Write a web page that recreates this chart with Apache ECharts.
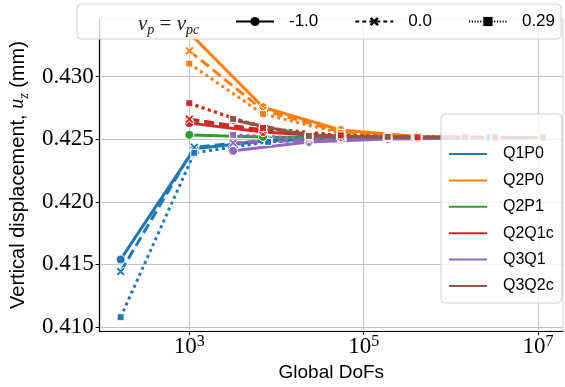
<!DOCTYPE html>
<html><head><meta charset="utf-8">
<script src="https://cdn.jsdelivr.net/npm/echarts@6/dist/echarts.min.js"></script>
<style>html,body{margin:0;padding:0;background:#fff}#c{width:565px;height:387px}</style>
</head><body><div id="c"></div>
<script>
// ---- data ----
const models = ['Q1P0', 'Q2P0', 'Q2P1', 'Q2Q1c', 'Q3Q1', 'Q3Q2c'];
const nuLabels = ['-1.0', '0.0', '0.29'];
const xTicks = [1e3, 1e5, 1e7];
const yTicks = [0.410, 0.415, 0.420, 0.425, 0.430];

const dofsQ1 = [163, 1140, 8000, 56000, 393000, 2750000];
const dofsQ2 = [1000, 7000, 54600, 414000, 3230000];
const dofsQ3 = [3180, 23500, 188000, 1466000, 11400000];

const Q1P0_m1 = [0.41540, 0.42423, 0.42490, 0.42504, 0.42510, 0.42513];
const Q1P0_0 = [0.41443, 0.42435, 0.42492, 0.42505, 0.42510, 0.42513];
const Q1P0_029 = [0.41079, 0.42391, 0.42478, 0.42501, 0.42509, 0.42513];

const Q2P0_m1 = [0.43348, 0.42755, 0.42573, 0.42522, 0.42514];
const Q2P0_0 = [0.43205, 0.42731, 0.42557, 0.42518, 0.42513];
const Q2P0_029 = [0.43103, 0.42700, 0.42549, 0.42516, 0.42513];

const Q2P1_m1 = [0.42534, 0.42518, 0.42513, 0.42513, 0.42513];
const Q2P1_0 = [0.42644, 0.42565, 0.42520, 0.42514, 0.42513];
const Q2P1_029 = [0.42785, 0.42587, 0.42528, 0.42515, 0.42513];

const Q2Q1c_m1 = [0.42628, 0.42557, 0.42518, 0.42513, 0.42513];
const Q2Q1c_0 = [0.42660, 0.42573, 0.42522, 0.42514, 0.42513];
const Q2Q1c_029 = [0.42787, 0.42589, 0.42530, 0.42515, 0.42513];

const Q3Q1_m1 = [0.42407, 0.42478, 0.42502, 0.42508, 0.42513];
const Q3Q1_0 = [0.42470, 0.42494, 0.42506, 0.42510, 0.42513];
const Q3Q1_029 = [0.42534, 0.42506, 0.42509, 0.42512, 0.42513];

const Q3Q2c_m1 = [0.42652, 0.42526, 0.42518, 0.42515, 0.42513];
const Q3Q2c_0 = [0.42656, 0.42526, 0.42518, 0.42515, 0.42513];
const Q3Q2c_029 = [0.42660, 0.42526, 0.42518, 0.42515, 0.42513];

// ---- styling ----
const colors = ['#1f77b4', '#ff7f0e', '#2ca02c', '#d62728', '#9467bd', '#8c564b'];
const xPath = 'path://M0,2L2,0L5,3L8,0L10,2L7,5L10,8L8,10L5,7L2,10L0,8L3,5Z';
const styles = [
  { dash: 'solid', symbol: 'circle', size: 9 },
  { dash: [10, 5], symbol: xPath, size: 9 },
  { dash: [3, 3.5], symbol: 'rect', size: 7 }
];
const seriesData = [
  [dofsQ1, [Q1P0_m1, Q1P0_0, Q1P0_029]],
  [dofsQ2, [Q2P0_m1, Q2P0_0, Q2P0_029]],
  [dofsQ2, [Q2P1_m1, Q2P1_0, Q2P1_029]],
  [dofsQ2, [Q2Q1c_m1, Q2Q1c_0, Q2Q1c_029]],
  [dofsQ3, [Q3Q1_m1, Q3Q1_0, Q3Q1_029]],
  [dofsQ3, [Q3Q2c_m1, Q3Q2c_0, Q3Q2c_029]]
];

const series = [];
models.forEach((m, i) => {
  const [xs, ys] = seriesData[i];
  ys.forEach((vals, j) => {
    series.push({
      type: 'line', name: m,
      data: xs.map((x, k) => [x, vals[k]]),
      symbol: styles[j].symbol, symbolSize: styles[j].size, showSymbol: true,
      color: colors[i],
      lineStyle: { width: 3, type: styles[j].dash, color: colors[i] },
      itemStyle: { color: colors[i], borderColor: '#fff', borderWidth: 1 },
      z: 2, emphasis: { disabled: true }
    });
  });
});
// legend-only series for the Poisson ratio styles
nuLabels.forEach((n, j) => {
  series.push({
    type: 'line', name: n, data: [],
    symbol: styles[j].symbol, symbolSize: 9,
    color: '#000',
    lineStyle: { width: 1.3, type: j === 0 ? 'solid' : (j === 1 ? [4, 3] : [1.2, 1.6]), color: '#000' },
    itemStyle: { color: '#000' }
  });
});

const sans = 'Liberation Sans';
const serif = 'Liberation Serif';

const chart = echarts.init(document.getElementById('c'), null, { renderer: 'canvas' });
chart.setOption({
  animation: false,
  backgroundColor: '#fff',
  title: {
    text: '{v|ν}{s|p}{e| = }{v|ν}{s|pc}',
    left: 133, top: 6, z: 10,
    textStyle: {
      fontWeight: 'normal',
      rich: {
        v: { fontFamily: serif, fontStyle: 'italic', fontWeight: 'normal', fontSize: 21, color: '#222', lineHeight: 26, verticalAlign: 'middle' },
        s: { fontFamily: serif, fontStyle: 'italic', fontWeight: 'normal', fontSize: 14, color: '#222', lineHeight: 26, verticalAlign: 'bottom' },
        e: { fontFamily: serif, fontWeight: 'normal', fontSize: 21, color: '#222', lineHeight: 26, verticalAlign: 'middle' }
      }
    }
  },
  grid: {
    left: 98, right: 2, top: 19, bottom: 53,
    show: true, borderColor: '#cfcfcf', borderWidth: 1
  },
  legend: [
    {
      data: nuLabels, orient: 'horizontal',
      left: 77, top: 4,
      padding: [9, 6, 9, 158],
      itemWidth: 38, itemHeight: 11.5, itemGap: 36,
      backgroundColor: 'rgba(255,255,255,0.8)', borderColor: '#d0d0d0', borderWidth: 1, borderRadius: 4,
      textStyle: { fontFamily: sans, fontSize: 17, color: '#000', lineHeight: 15, padding: [0, 0, 0, 10] },
      z: 5
    },
    {
      data: models.map(m => ({ name: m, icon: 'rect' })),
      orient: 'vertical',
      left: 441, top: 114,
      padding: [32, 8, 9, 6],
      itemWidth: 40, itemHeight: 4, itemGap: 10.4,
      backgroundColor: 'rgba(255,255,255,0.8)', borderColor: '#d0d0d0', borderWidth: 1, borderRadius: 4,
      textStyle: { fontFamily: sans, fontSize: 16, color: '#000', lineHeight: 16, padding: [0, 0, 0, 10] },
      z: 5
    }
  ],
  xAxis: {
    type: 'log', logBase: 10, min: 93.6, max: 1.93e7,
    name: 'Global DoFs', nameLocation: 'middle', nameGap: 29,
    nameTextStyle: { fontFamily: sans, fontSize: 19, color: '#000' },
    axisLine: { show: true, onZero: false, lineStyle: { color: '#000', width: 1.2 } },
    axisTick: { show: true, inside: false, length: 4, customValues: xTicks, lineStyle: { color: '#000' } },
    axisLabel: {
      customValues: xTicks, margin: 3,
      formatter: v => '{b|10}{s|' + Math.round(Math.log10(v)) + '}',
      rich: {
        b: { fontFamily: serif, fontSize: 23, color: '#000', lineHeight: 24, verticalAlign: 'bottom' },
        s: { fontFamily: serif, fontSize: 16, color: '#000', lineHeight: 24, verticalAlign: 'top' }
      }
    },
    splitLine: { show: true, lineStyle: { color: '#c4c4c4', width: 1 } },
    minorTick: { show: false }, minorSplitLine: { show: false }
  },
  yAxis: {
    type: 'value', min: 0.40968, max: 0.43459,
    name: '{s|Vertical displacement, }{u|u}{z|z}{s| (mm)}', nameLocation: 'middle', nameGap: 63, nameRotate: 90,
    nameTextStyle: {
      rich: {
        s: { fontFamily: sans, fontSize: 20, color: '#000' },
        u: { fontFamily: serif, fontStyle: 'italic', fontSize: 20, color: '#000' },
        z: { fontFamily: serif, fontStyle: 'italic', fontSize: 14, color: '#000', verticalAlign: 'bottom', lineHeight: 26 }
      }
    },
    axisLine: { show: true, lineStyle: { color: '#000', width: 1.2 } },
    axisTick: { show: true, inside: false, length: 4, customValues: yTicks, lineStyle: { color: '#000' } },
    axisLabel: {
      customValues: yTicks, margin: 6,
      formatter: v => Number(v).toFixed(3),
      fontFamily: serif, fontSize: 23, color: '#000'
    },
    splitLine: { show: true, lineStyle: { color: '#c4c4c4', width: 1 } }
  },
  series: series
});
</script>
</body></html>
